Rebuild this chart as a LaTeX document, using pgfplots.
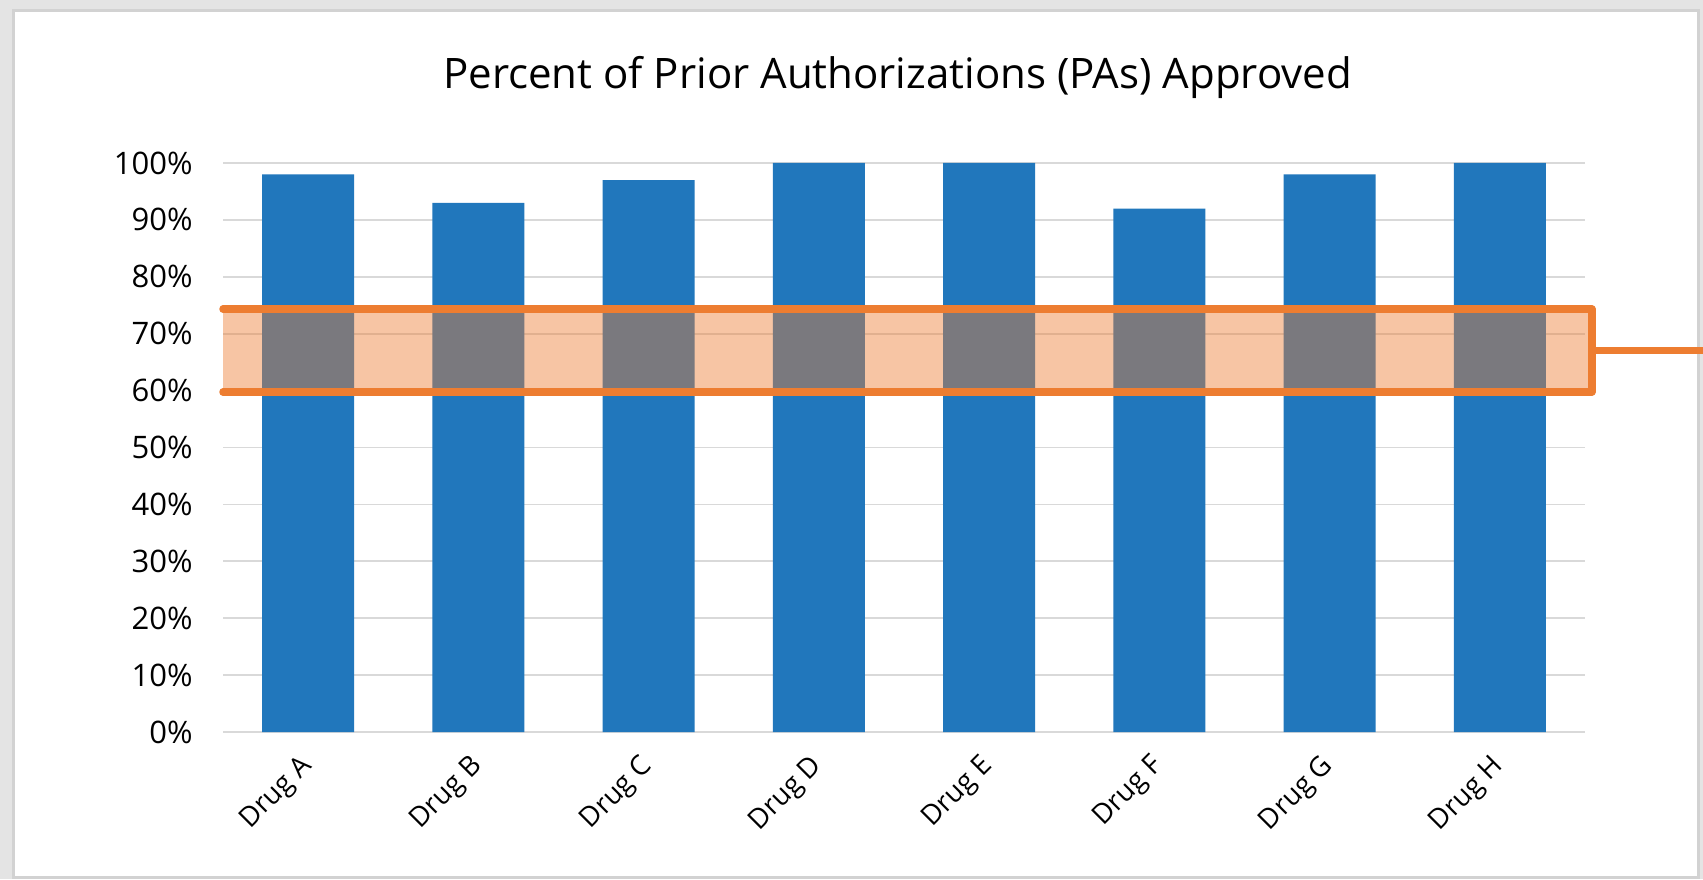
\documentclass[border=0pt]{standalone}
\usepackage{fontspec}
\setmainfont{Open Sans}
\usepackage{pgfplots}
\pgfplotsset{compat=1.18}
\definecolor{barblue}{HTML}{2177BC}
\definecolor{accent}{HTML}{ED7D31}
\definecolor{gridc}{HTML}{D9D9D9}
\definecolor{frameout}{HTML}{E4E4E4}
\definecolor{frameedge}{HTML}{D2D2D2}
\begin{document}
\begin{tikzpicture}
\useasboundingbox (0,0) rectangle (851.5pt,439.5pt);
\fill[frameout] (0,0) rectangle (851.5pt,439.5pt);
\fill[frameedge] (6pt,0pt) rectangle (850pt,435pt);
\fill[white] (7.5pt,1.5pt) rectangle (848.5pt,433.5pt);
\node[font=\fontsize{21}{25}\selectfont, anchor=base, inner sep=0pt] at (448.8pt,395pt) {Percent of Prior Authorizations (PAs) Approved};
\begin{axis}[
  at={(111.5pt,73.5pt)}, anchor=south west,
  scale only axis, width=681pt, height=284.5pt,
  xmin=-0.5, xmax=7.5, ymin=0, ymax=100,
  ytick={0,10,...,100},
  xtick={0,1,2,3,4,5,6,7},
  xticklabels={Drug A,Drug B,Drug C,Drug D,Drug E,Drug F,Drug G,Drug H},
  ymajorgrids, grid style={gridc, line width=0.9pt},
  axis line style={draw=none},
  major tick length=0pt,
  /pgf/number format/assume math mode=true,
  yticklabel={\pgfmathprintnumber{\tick}\%},
  yticklabel style={font=\fontsize{15.5}{18}\selectfont, anchor=east, inner sep=0pt, xshift=-15pt},
  xticklabel style={font=\fontsize{13.8}{16}\selectfont, anchor=east, inner sep=0pt, yshift=-15pt, rotate=45},
  clip=false,
]
\addplot[ybar, bar width=46pt, fill=barblue, draw=none] coordinates {(0,98) (1,93) (2,97) (3,100) (4,100) (5,92) (6,98) (7,100)};
\addplot[draw=none, fill=accent, fill opacity=0.44] coordinates {(-0.5,59.75) (7.54,59.75) (7.54,74.3) (-0.5,74.3)} -- cycle;
\addplot[accent, line width=3.75pt, line cap=round, line join=round] coordinates {(-0.5,74.3) (7.54,74.3) (7.54,59.75) (-0.5,59.75)};
\addplot[accent, line width=3.5pt] coordinates {(7.54,67.0) (8.4,67.0)};
\end{axis}
\end{tikzpicture}
\end{document}
